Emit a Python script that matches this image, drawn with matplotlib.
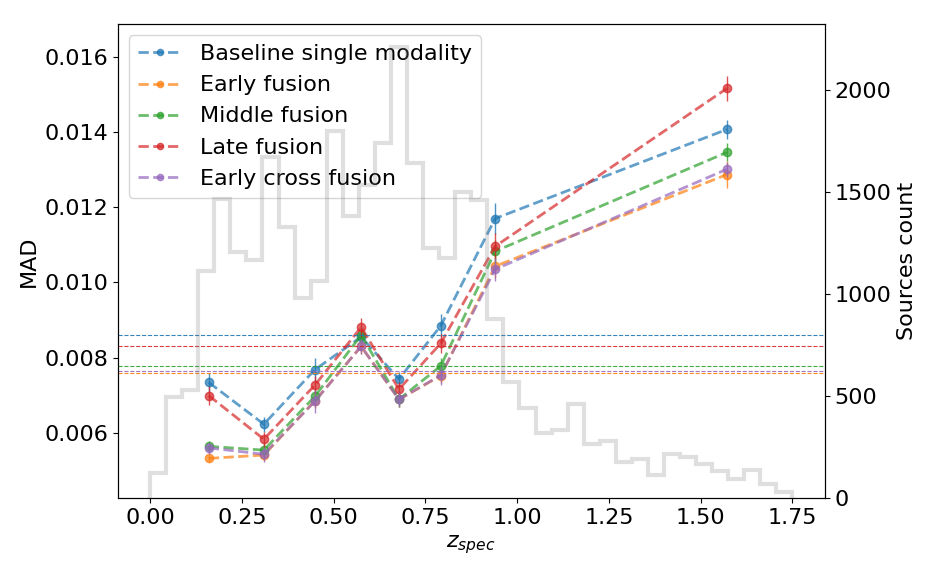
import numpy as np
import matplotlib
matplotlib.use("Agg")
import matplotlib.pyplot as plt

# ---- DATA ----
z_bins = [0.160, 0.310, 0.449, 0.575, 0.678, 0.792, 0.940, 1.571]

labels = ["Baseline single modality", "Early fusion", "Middle fusion",
          "Late fusion", "Early cross fusion"]
colors = ["C0", "C1", "C2", "C3", "C4"]

mad_baseline = [0.00734, 0.00623, 0.00768, 0.00855, 0.00743, 0.00885, 0.01170, 0.01407]
mad_early = [0.00532, 0.00541, 0.00685, 0.00830, 0.00689, 0.00752, 0.01043, 0.01287]
mad_middle = [0.00564, 0.00554, 0.00697, 0.00860, 0.00689, 0.00778, 0.01083, 0.01346]
mad_late = [0.00699, 0.00583, 0.00727, 0.00881, 0.00716, 0.00838, 0.01096, 0.01516]
mad_cross = [0.00560, 0.00543, 0.00684, 0.00830, 0.00689, 0.00753, 0.01035, 0.01301]

err_baseline = [0.00025, 0.00020, 0.00030, 0.00030, 0.00020, 0.00030, 0.00042, 0.00025]
err_early = [0.00010, 0.00015, 0.00020, 0.00020, 0.00020, 0.00020, 0.00030, 0.00035]
err_middle = [0.00015, 0.00020, 0.00020, 0.00020, 0.00020, 0.00020, 0.00030, 0.00024]
err_late = [0.00026, 0.00020, 0.00025, 0.00025, 0.00020, 0.00026, 0.00035, 0.00034]
err_cross = [0.00015, 0.00020, 0.00030, 0.00020, 0.00020, 0.00025, 0.00030, 0.00020]

# overall MAD per model (horizontal reference lines)
mad_overall = [0.00861, 0.00759, 0.00777, 0.00830, 0.00764]

# z_spec histogram, 40 bins between 0 and 1.75
hist_counts = [125, 495, 531, 1114, 1470, 1209, 1167, 1673, 1331, 981,
               1065, 1803, 1383, 1535, 1743, 2212, 1642, 1225, 1179, 1503,
               1465, 878, 568, 445, 321, 337, 463, 264, 283, 178,
               194, 112, 215, 202, 170, 132, 96, 137, 68, 31]
hist_range = (0.0, 1.75)

mads = [mad_baseline, mad_early, mad_middle, mad_late, mad_cross]
errs = [err_baseline, err_early, err_middle, err_late, err_cross]

# ---- PLOT ----
plt.rcParams["font.size"] = 16

fig, ax = plt.subplots(figsize=(9.36, 5.76), dpi=100)
fig.subplots_adjust(left=0.126, right=0.881, bottom=0.135, top=0.958)

for lab, c, m, e in zip(labels, colors, mads, errs):
    ax.errorbar(z_bins, m, yerr=e, fmt="none", ecolor=c, alpha=0.8, elinewidth=1)
    ax.plot(z_bins, m, "--o", color=c, alpha=0.7, lw=2, ms=6, label=lab)

for c, v in zip(colors, mad_overall):
    ax.axhline(v, color=c, ls="--", lw=0.8, alpha=0.9)

ax.set_ylabel("MAD")
ax.set_xlabel("$z_{spec}$")
ax.set_ylim(0.00426, 0.01687)
ax.legend(loc="upper left", markerscale=0.75)

ax2 = ax.twinx()
edges = np.linspace(hist_range[0], hist_range[1], len(hist_counts) + 1)
ax2.stairs(hist_counts, edges, color="gray", alpha=0.25, lw=3)
ax2.set_ylabel("Sources count")
ax2.set_ylim(0, 2325)
ax.set_xlim(-0.0875, 1.8375)

fig.savefig("out.png", dpi=100)
